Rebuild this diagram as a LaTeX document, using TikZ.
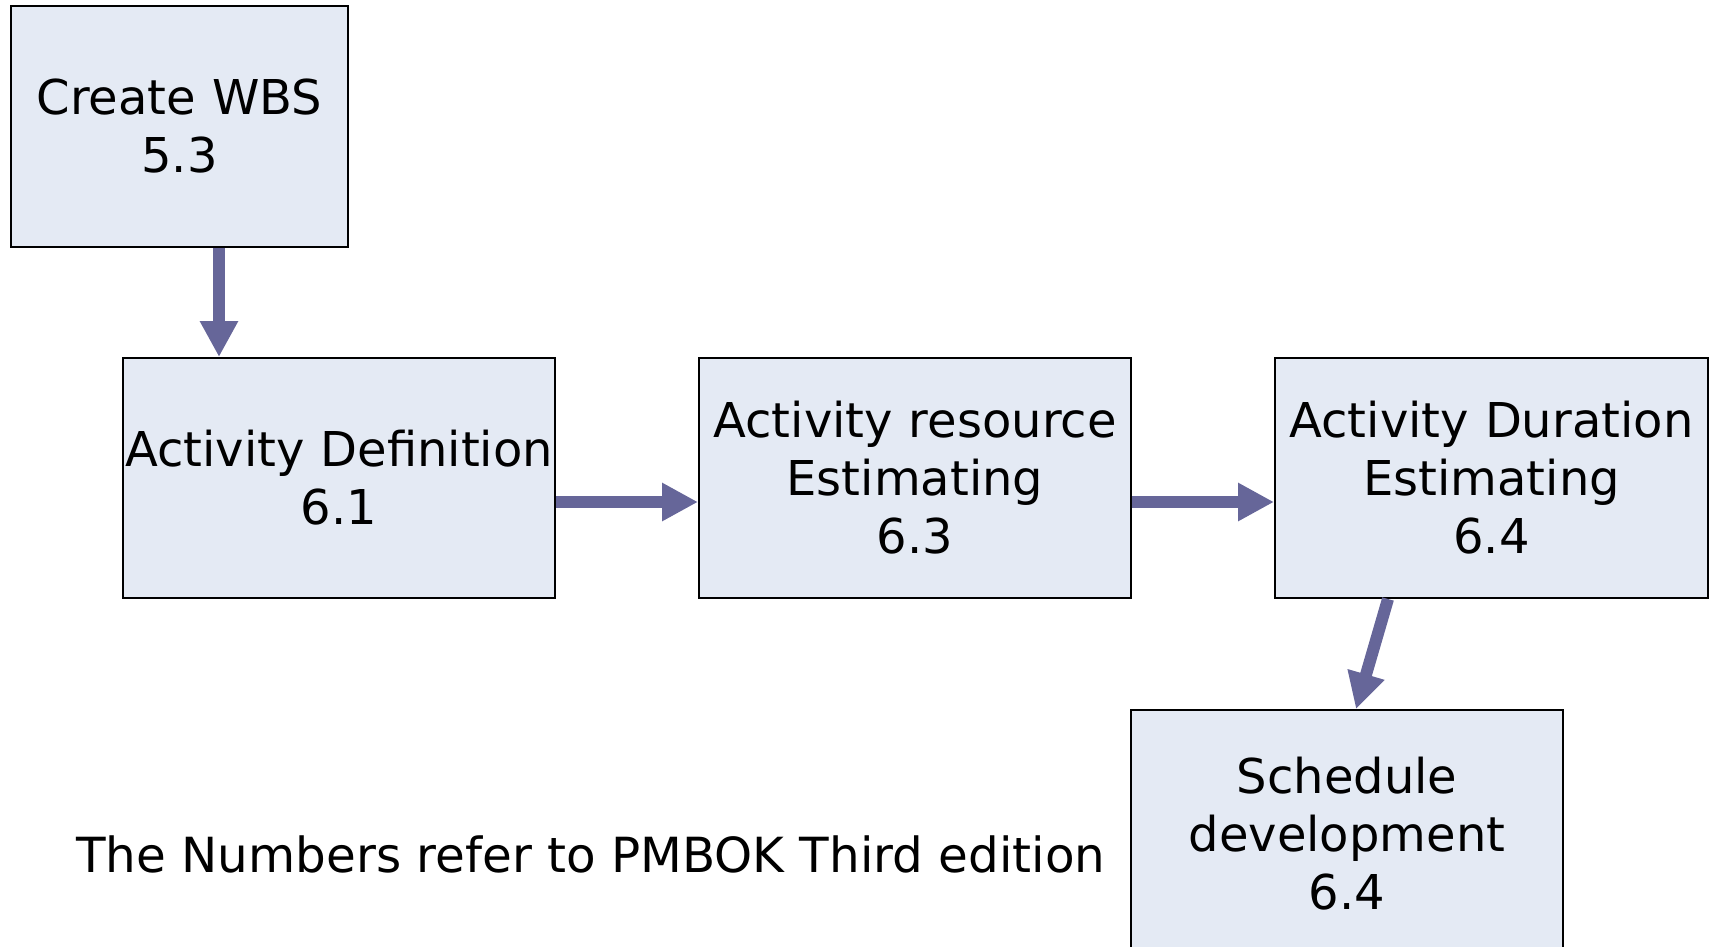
\documentclass[tikz,border=0pt]{standalone}
\usepackage{fontspec}
\setmainfont{DejaVu Sans}
\usetikzlibrary{arrows.meta,calc}
\definecolor{boxfill}{RGB}{228,234,244}
\definecolor{arrowc}{RGB}{102,102,153}
\tikzset{
  procbox/.style={draw=black, line width=1pt, fill=boxfill, rectangle, inner sep=0pt,
    align=center, font=\fontsize{24}{29}\selectfont},
  flow/.style={draw=arrowc, line width=6pt, -{Triangle[width=18pt,length=18pt]}},
  note/.style={inner sep=0pt, anchor=west, font=\fontsize{24.2}{29}\selectfont}
}
\begin{document}
\begin{tikzpicture}[x=0.5pt,y=-0.5pt]
\useasboundingbox (0,0) rectangle (1713,947);
\clip (0,0) rectangle (1713,947);
\node[procbox, minimum width=168.5pt, minimum height=120.5pt, text width=168.5pt] (wbs) at (179.5,126.5) {Create WBS\\5.3};
\node[procbox, minimum width=216pt, minimum height=120pt, text width=216pt] (def) at (339,478) {Activity Definition\\6.1};
\node[procbox, minimum width=216pt, minimum height=120pt, text width=216pt] (res) at (915,478) {Activity resource\\Estimating\\6.3};
\node[procbox, minimum width=216.5pt, minimum height=120pt, text width=216.5pt] (dur) at (1491.5,478) {Activity Duration\\Estimating\\6.4};
\node[procbox, minimum width=216pt, minimum height=123.5pt, text width=216pt] (sch) at (1347,833.5) {Schedule\\development\\6.4};
\node[note] (txt) at (76,854) {The Numbers refer to PMBOK Third edition};
\coordinate (a1) at ($(wbs.south)+(39.5,0)$);
\draw[flow] (a1) -- (a1 |- def.north);
\draw[flow] ($(def.east)+(0,24)$) -- ($(res.west)+(0,24)$);
\draw[flow] ($(res.east)+(0,24)$) -- ($(dur.west)+(0,24)$);
\draw[flow] ($(dur.south)+(-103.5,0)$) -- ($(sch.north)+(9,0)$);
\end{tikzpicture}
\end{document}
